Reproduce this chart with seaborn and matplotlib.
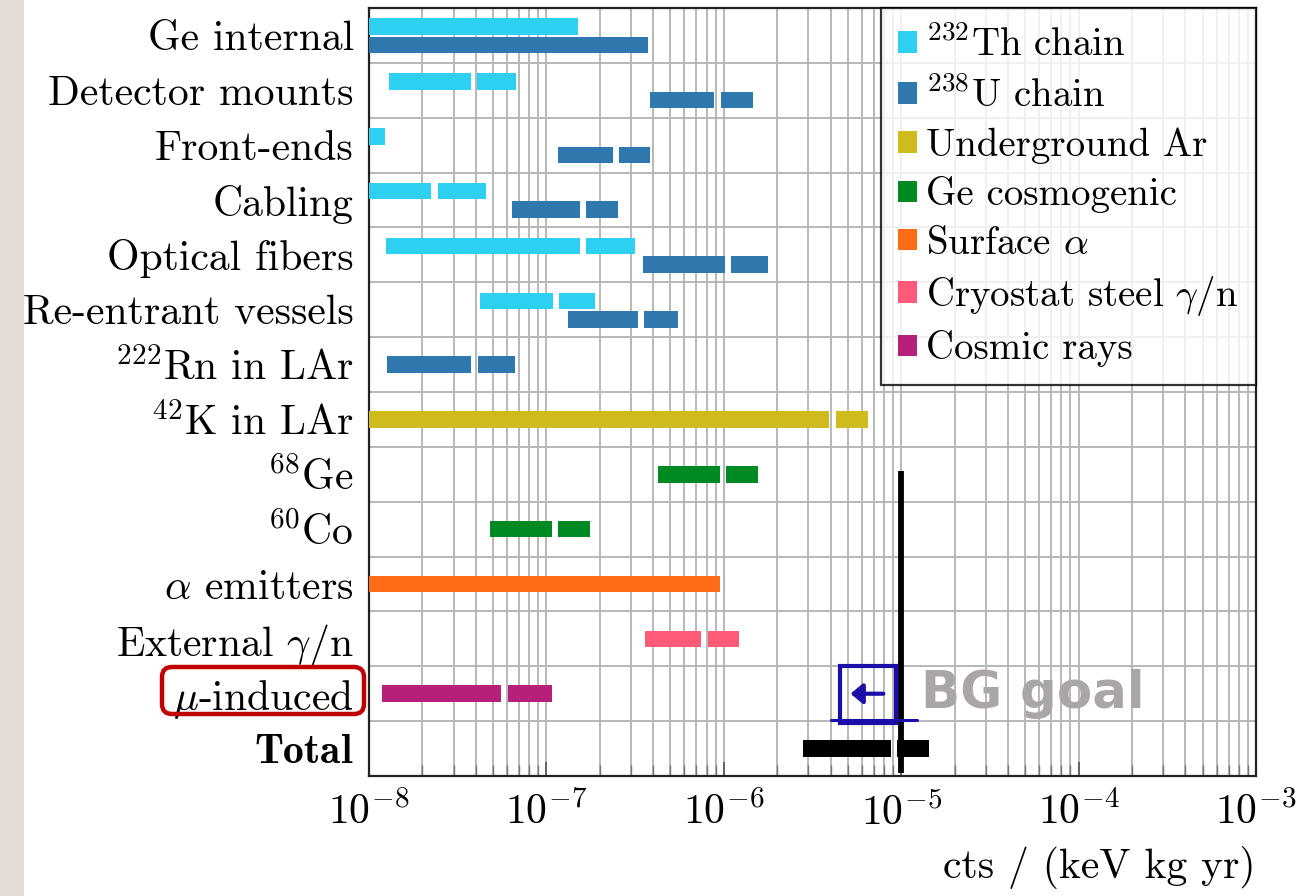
import numpy as np
import matplotlib
matplotlib.use("Agg")
import matplotlib.pyplot as plt
from matplotlib.patches import Patch, Rectangle, FancyBboxPatch
from matplotlib.ticker import LogLocator, FixedLocator, NullFormatter
import seaborn as sns

sns.set_theme(style="white")
plt.rcParams.update({
    "font.family": "serif",
    "font.serif": ["cmr10"],
    "mathtext.fontset": "cm",
    "axes.formatter.use_mathtext": True,
    "axes.unicode_minus": False,
    "text.color": "black",
    "axes.labelcolor": "black",
    "xtick.labelcolor": "black",
    "ytick.labelcolor": "black",
})

# ---------------------------------------------------------------- data
row_labels = [
    "Ge internal", "Detector mounts", "Front-ends", "Cabling", "Optical fibers",
    "Re-entrant vessels", r"$^{222}$Rn in LAr", r"$^{42}$K in LAr", r"$^{68}$Ge",
    r"$^{60}$Co", r"$\alpha$ emitters", r"External $\gamma$/n", r"$\mu$-induced",
    r"$\mathbf{Total}$",
]

# each contribution: lower end, end of first segment (nan = single segment), upper end
th_rows = [0, 1, 2, 3, 4, 5]
th_lo = [1e-9, 1.29e-8, 1e-9, 1e-9, 1.24e-8, 4.23e-8]
th_mid = [np.nan, 3.76e-8, np.nan, 2.25e-8, 1.54e-7, 1.09e-7]
th_hi = [1.51e-7, 6.78e-8, 1.23e-8, 4.59e-8, 3.14e-7, 1.87e-7]

u_rows = [0, 1, 2, 3, 4, 5, 6]
u_lo = [1e-9, 3.84e-7, 1.17e-7, 6.39e-8, 3.52e-7, 1.33e-7, 1.26e-8]
u_mid = [np.nan, 8.85e-7, 2.37e-7, 1.54e-7, 1.01e-6, 3.28e-7, 3.78e-8]
u_hi = [3.74e-7, 1.46e-6, 3.82e-7, 2.53e-7, 1.77e-6, 5.52e-7, 6.64e-8]

ar_rows, ar_lo, ar_mid, ar_hi = [7], [1e-9], [3.94e-6], [6.46e-6]
ge_rows = [8, 9]
ge_lo = [4.26e-7, 4.80e-8]
ge_mid = [9.49e-7, 1.07e-7]
ge_hi = [1.55e-6, 1.75e-7]
alpha_rows, alpha_lo, alpha_mid, alpha_hi = [10], [1e-9], [np.nan], [9.5e-7]
steel_rows, steel_lo, steel_mid, steel_hi = [11], [3.58e-7], [7.48e-7], [1.22e-6]
cosmic_rows, cosmic_lo, cosmic_mid, cosmic_hi = [12], [1.18e-8], [5.57e-8], [1.07e-7]
total_rows, total_lo, total_mid, total_hi = [13], [2.81e-6], [8.75e-6], [1.44e-5]

bg_goal = 1e-5

legend_labels = [
    r"$^{232}$Th chain", r"$^{238}$U chain", "Underground Ar", "Ge cosmogenic",
    r"Surface $\alpha$", r"Cryostat steel $\gamma$/n", "Cosmic rays",
]
colors = ["#2ed0f2", "#2f78ae", "#d0bb1e", "#008a24", "#ff6c18", "#ff5a78", "#b5207a"]

# ---------------------------------------------------------------- figure
fig = plt.figure(figsize=(12.98, 8.96), dpi=100)
fig.patch.set_facecolor("white")
fig.add_artist(Rectangle((0, 0), 24 / 1298, 1, transform=fig.transFigure,
                         facecolor="#e4dbd7", edgecolor="none", zorder=-5))

ax = fig.add_axes([369 / 1298, 1 - 776 / 896, 887 / 1298, 768 / 896])
ax.set_xscale("log")
ax.set_xlim(1e-8, 1e-3)
ax.set_ylim(len(row_labels) - 0.5, -0.5)

BAR_H = 0.3
GAP = 10 ** 0.036  # multiplicative gap between the two segments of a bar


def draw_bars(rows, lo, mid, hi, color, offset=0.0):
    for r, a, m, b in zip(rows, lo, mid, hi):
        y = r + offset
        if np.isnan(m):
            ax.barh(y, b - a, left=a, height=BAR_H, color=color, linewidth=0, zorder=3)
        else:
            ax.barh(y, m - a, left=a, height=BAR_H, color=color, linewidth=0, zorder=3)
            ax.barh(y, b - m * GAP, left=m * GAP, height=BAR_H, color=color,
                    linewidth=0, zorder=3)


th_off = [-0.16 if r in u_rows else 0.0 for r in th_rows]
u_off = [0.175 if r in th_rows else 0.0 for r in u_rows]
for r, a, m, b, o in zip(th_rows, th_lo, th_mid, th_hi, th_off):
    draw_bars([r], [a], [m], [b], colors[0], o)
for r, a, m, b, o in zip(u_rows, u_lo, u_mid, u_hi, u_off):
    draw_bars([r], [a], [m], [b], colors[1], o)
draw_bars(ar_rows, ar_lo, ar_mid, ar_hi, colors[2])
draw_bars(ge_rows, ge_lo, ge_mid, ge_hi, colors[3])
draw_bars(alpha_rows, alpha_lo, alpha_mid, alpha_hi, colors[4])
draw_bars(steel_rows, steel_lo, steel_mid, steel_hi, colors[5])
draw_bars(cosmic_rows, cosmic_lo, cosmic_mid, cosmic_hi, colors[6])
draw_bars(total_rows, total_lo, total_mid, total_hi, "black")

# background goal line
ax.plot([bg_goal, bg_goal], [7.94, 13.45], color="black", lw=4.2,
        solid_capstyle="butt", zorder=6)

# axes styling
ax.set_yticks(range(len(row_labels)))
ax.set_yticklabels(row_labels, fontsize=30)
ax.yaxis.set_minor_locator(FixedLocator(np.arange(0.5, len(row_labels) - 0.5, 1)))
ax.tick_params(axis="y", which="both", length=0, pad=11)
ax.xaxis.set_major_locator(LogLocator(base=10, numticks=10))
ax.xaxis.set_minor_locator(LogLocator(base=10, subs=np.arange(2, 10), numticks=50))
ax.xaxis.set_minor_formatter(NullFormatter())
ax.tick_params(axis="x", which="major", labelsize=30, direction="in", length=10,
               width=1.2, color="#555555", pad=11, bottom=True)
ax.tick_params(axis="x", which="minor", direction="in", length=8, width=1.0,
               color="#777777", bottom=True)
ax.grid(True, which="both", axis="x", color="#b8b8b8", lw=1.4, zorder=0)
ax.grid(True, which="minor", axis="y", color="#b8b8b8", lw=1.4, zorder=0)
ax.grid(False, which="major", axis="y")
ax.set_axisbelow(True)
for s in ax.spines.values():
    s.set_color("#222222")
    s.set_linewidth(1.6)
ax.set_xlabel("cts / (keV kg yr)", fontsize=30, loc="right", labelpad=10)

# legend
handles = [Patch(facecolor=c, edgecolor="none") for c in colors]
leg = ax.legend(handles, legend_labels, loc="upper right", fontsize=28,
                frameon=True, fancybox=False, borderaxespad=0, borderpad=0.45,
                handlelength=0.47, handleheight=0.47, handletextpad=0.25,
                labelspacing=0.32)
leg.get_frame().set_edgecolor("black")
leg.get_frame().set_linewidth(1.6)
leg.set_zorder(10)

# BG goal marker
blue = "#1b0fa8"
ax.add_patch(Rectangle((4.49e-6, 11.49), 9.29e-6 - 4.49e-6, 12.53 - 11.49,
                       fill=False, edgecolor=blue, lw=3, zorder=7))
ax.plot([4.0e-6, 1.23e-5], [12.48, 12.48], color=blue, lw=2.2, zorder=7)
ax.annotate("", xy=(5.18e-6, 12.0), xytext=(7.93e-6, 12.0),
            arrowprops=dict(arrowstyle="-|>,head_length=0.36,head_width=0.3",
                            color=blue, lw=3, mutation_scale=20, shrinkA=0, shrinkB=0),
            zorder=8)
ax.text(1.29e-5, 12.0, "BG goal", fontsize=37, fontweight="bold",
        family="DejaVu Sans", color="#aaa6a5", ha="left", va="center", zorder=8)

# highlight frame around the muon-induced row label
fig.add_artist(FancyBboxPatch((1.62, (896 - 714) / 100), 2.02, 0.47,
                              boxstyle="round,pad=0,rounding_size=0.1",
                              transform=fig.dpi_scale_trans, fill=False,
                              edgecolor="#c00000", lw=3.2, zorder=10))

fig.savefig("out.png", dpi=100)
